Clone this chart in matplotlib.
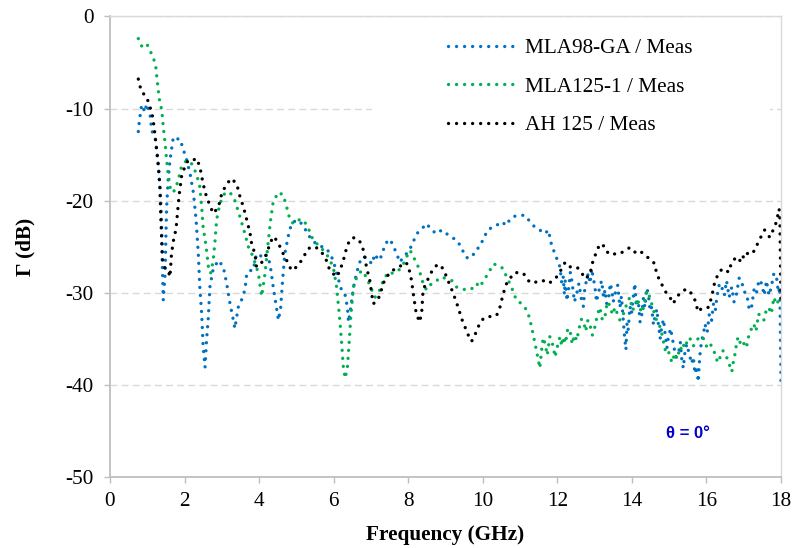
import numpy as np
import matplotlib.pyplot as plt
from matplotlib.patches import Rectangle

# Reflection coefficient vs. frequency, three antennas, theta = 0 deg
f_mla98 = np.array([
    0.76, 0.79, 0.85, 0.94, 0.98, 1.07, 1.12, 1.21, 1.27, 1.32,
    1.37, 1.39, 1.41, 1.43, 1.48, 1.50, 1.52, 1.56, 1.61, 1.70,
    1.79, 1.88, 1.97, 2.06, 2.15, 2.24, 2.31, 2.37, 2.41, 2.46,
    2.50, 2.55, 2.59, 2.64, 2.68, 2.77, 2.91, 3.04, 3.13, 3.22,
    3.31, 3.35, 3.44, 3.53, 3.62, 3.67, 3.76, 3.84, 3.93, 4.02,
    4.11, 4.20, 4.29, 4.38, 4.45, 4.52, 4.58, 4.63, 4.69, 4.78,
    4.87, 5.01, 5.14, 5.28, 5.41, 5.54, 5.68, 5.81, 5.90, 5.99,
    6.08, 6.21, 6.30, 6.37, 6.40, 6.46, 6.53, 6.62, 6.71, 6.80,
    6.93, 7.02, 7.11, 7.20, 7.29, 7.38, 7.51, 7.60, 7.69, 7.78,
    7.87, 8.00, 8.09, 8.23, 8.36, 8.49, 8.63, 8.76, 8.90, 9.03,
    9.17, 9.30, 9.43, 9.52, 9.61, 9.70, 9.83, 9.92, 10.02, 10.10,
    10.24, 10.37, 10.50, 10.64, 10.73, 10.86, 11.00, 11.13, 11.27, 11.40,
    11.53, 11.67, 11.76, 11.85, 11.94,
    12.07, 12.12, 12.16, 12.19, 12.21, 12.26, 12.30, 12.35, 12.39, 12.46,
    12.52, 12.58, 12.65, 12.70, 12.74, 12.79, 12.83, 12.88, 12.92, 12.97,
    13.01, 13.05, 13.10, 13.15, 13.19, 13.24, 13.28, 13.32, 13.37, 13.42,
    13.46, 13.50, 13.55, 13.62, 13.68, 13.72, 13.77, 13.80, 13.84, 13.87,
    13.90, 13.95, 13.99, 14.04, 14.08, 14.12, 14.17, 14.22, 14.26, 14.31,
    14.35, 14.40, 14.44, 14.49, 14.53, 14.58, 14.62, 14.67, 14.71, 14.76,
    14.80, 14.85, 14.89, 14.94, 14.98, 15.04, 15.11, 15.18, 15.25, 15.30,
    15.34, 15.38, 15.42, 15.47, 15.51, 15.56, 15.60, 15.65, 15.69, 15.74,
    15.78, 15.82, 15.87, 15.92, 15.96, 16.02, 16.08, 16.14, 16.19, 16.24,
    16.28, 16.35, 16.41, 16.48, 16.54, 16.61, 16.68, 16.74, 16.81, 16.88,
    16.94, 17.01, 17.08, 17.15, 17.21, 17.28, 17.34, 17.41, 17.48, 17.55,
    17.61, 17.68, 17.74, 17.81, 17.88, 17.93, 17.97, 18.00])
g_mla98 = np.array([
    -12.5, -11.3, -9.6, -10.4, -9.5, -10.4, -12.4, -13.1, -14.9, -17.4,
    -20.7, -23.9, -27.9, -30.8, -27.9, -23.9, -20.7, -17.8, -15.6, -13.1,
    -13.3, -13.3, -14.5, -15.6, -17.1, -19.2, -22.1, -25.8, -29.4, -32.3,
    -35.9, -38.1, -35.2, -32.6, -29.4, -27.4, -26.5, -27.2, -29.0, -31.2,
    -33.0, -33.9, -31.6, -30.8, -29.7, -27.9, -27.6, -27.6, -25.8, -25.9,
    -26.3, -25.9, -26.8, -29.4, -31.2, -33.0, -31.6, -28.7, -25.8, -23.9,
    -22.5, -22.1, -22.5, -23.4, -24.3, -24.7, -25.0, -25.2, -25.8, -26.5,
    -27.9, -29.7, -30.1, -31.6, -33.2, -31.6, -29.5, -27.8, -26.6, -26.1,
    -26.3, -26.9, -25.8, -26.5, -26.0, -24.7, -24.2, -24.9, -25.8, -26.7,
    -26.1, -25.6, -24.9, -23.6, -23.1, -22.5, -23.2, -23.6, -23.2, -23.6,
    -24.0, -24.3, -25.1, -26.0, -26.3, -26.0, -25.6, -24.7, -24.3, -23.4,
    -22.9, -22.7, -22.3, -22.7, -22.0, -21.7, -21.6, -21.6, -22.3, -22.9,
    -23.2, -23.6, -23.2, -24.9, -25.8,
    -27.2, -29.0, -28.3, -30.2, -28.7, -30.9, -29.7, -27.8, -28.7, -31.0,
    -30.1, -29.0, -30.8, -31.5, -29.4, -28.6, -27.9, -29.0, -27.4, -28.5,
    -29.4, -31.0, -30.1, -29.2, -28.7, -30.5, -29.7, -31.2, -30.8, -29.0,
    -29.7, -31.0, -30.1, -29.2, -31.6, -30.4, -33.0, -34.6, -36.2, -33.4,
    -34.1, -31.5, -32.3, -30.4, -29.0, -31.5, -30.8, -33.2, -32.6, -30.6,
    -31.6, -29.5, -30.1, -32.0, -31.6, -33.5, -32.6, -31.8, -33.4, -35.0,
    -33.7, -32.9, -34.4, -36.0, -34.8, -33.9, -35.5, -37.0, -36.6, -35.4,
    -37.3, -38.2, -36.6, -35.6, -36.2, -37.0, -37.7, -37.0, -38.8, -38.0,
    -39.7, -37.0, -35.2, -34.5, -33.4, -34.3, -32.3, -33.0, -31.2, -31.9,
    -30.5, -29.0, -29.4, -30.3, -28.7, -30.5, -29.4, -31.0, -30.1, -28.4,
    -28.7, -29.9, -30.1, -31.9, -31.6, -29.6, -30.1, -28.6, -29.0, -30.3,
    -28.7, -30.3, -29.4, -27.9, -28.3, -30.0, -29.4, -40.0])

f_mla125 = np.array([
    0.76, 0.85, 0.98, 1.07, 1.16, 1.23, 1.27, 1.32, 1.39, 1.43,
    1.48, 1.52, 1.56, 1.61, 1.65, 1.74, 1.83, 1.92, 2.06, 2.19,
    2.32, 2.41, 2.46, 2.50, 2.58, 2.64, 2.70, 2.77, 2.82, 2.86,
    2.95, 3.08, 3.22, 3.35, 3.49, 3.62, 3.71, 3.84, 3.98, 4.07,
    4.16, 4.25, 4.31, 4.38, 4.52, 4.65, 4.74, 4.83, 4.92, 5.05,
    5.19, 5.32, 5.45, 5.63, 5.81, 5.99, 6.08, 6.15, 6.21, 6.26,
    6.31, 6.37, 6.42, 6.46, 6.53, 6.62, 6.75, 6.88, 7.02, 7.11,
    7.24, 7.33, 7.46, 7.60, 7.74, 7.87, 7.96, 8.05, 8.14, 8.27,
    8.40, 8.49, 8.63, 8.76, 8.90, 9.03, 9.17, 9.30, 9.43, 9.57,
    9.70, 9.83, 9.92, 10.02, 10.15, 10.28, 10.41, 10.55, 10.64, 10.77,
    10.90, 11.04, 11.13, 11.22, 11.31, 11.40, 11.49, 11.53,
    11.58, 11.62, 11.67, 11.73, 11.80, 11.85, 11.89, 11.94, 11.98, 12.03,
    12.07, 12.12, 12.16, 12.22, 12.28, 12.34, 12.40, 12.46, 12.52, 12.58,
    12.64, 12.70, 12.76, 12.82, 12.87, 12.94, 13.01, 13.07, 13.14, 13.21,
    13.28, 13.34, 13.41, 13.48, 13.55, 13.61, 13.68, 13.75, 13.81, 13.88,
    13.95, 14.01, 14.08, 14.15, 14.21, 14.28, 14.35, 14.40, 14.44, 14.49,
    14.53, 14.60, 14.66, 14.73, 14.80, 14.85, 14.89, 14.96, 15.02, 15.08,
    15.15, 15.22, 15.29, 15.36, 15.42, 15.49, 15.56, 15.65, 15.74, 15.83,
    15.92, 16.01, 16.10, 16.17, 16.23, 16.30, 16.37, 16.44, 16.50, 16.59,
    16.68, 16.72, 16.77, 16.82, 16.86, 16.93, 17.00, 17.07, 17.13, 17.20,
    17.27, 17.33, 17.40, 17.47, 17.54, 17.60, 17.67, 17.74, 17.81, 17.88,
    17.94, 18.00])
g_mla125 = np.array([
    -2.4, -3.2, -2.9, -3.7, -4.4, -5.5, -7.1, -8.9, -10.2, -12.0,
    -13.8, -15.6, -17.1, -18.5, -19.1, -18.9, -17.8, -16.3, -15.6, -16.0,
    -17.1, -18.5, -20.7, -22.9, -25.0, -27.2, -27.9, -26.5, -24.3, -22.1,
    -20.3, -19.2, -19.1, -20.0, -21.8, -23.6, -25.0, -26.1, -27.9, -30.4,
    -27.9, -24.3, -22.1, -20.1, -19.1, -19.4, -20.7, -22.1, -22.5, -22.1,
    -22.1, -23.0, -24.3, -25.0, -25.8, -27.2, -29.4, -32.3, -35.2, -38.1,
    -39.3, -38.1, -35.2, -32.6, -29.4, -28.3, -27.6, -28.3, -29.7, -30.5,
    -29.7, -28.7, -27.8, -27.9, -27.6, -26.9, -26.1, -25.4, -26.1, -27.2,
    -29.0, -29.7, -29.0, -28.7, -28.3, -28.5, -28.7, -29.4, -29.6, -29.7,
    -29.6, -29.0, -29.4, -28.7, -27.9, -26.9, -27.0, -27.4, -28.3, -29.4,
    -30.8, -31.2, -31.6, -32.3, -33.7, -35.5, -37.3, -38.2,
    -36.2, -34.9, -35.5, -36.8, -34.8, -35.2, -35.9, -37.0, -36.2, -35.4,
    -34.8, -35.8, -34.8, -35.5, -33.9, -34.1, -35.6, -34.6, -35.2, -34.0,
    -32.9, -33.0, -34.2, -33.0, -33.4, -34.6, -33.7, -32.5, -31.6, -33.0,
    -32.6, -31.0, -31.4, -32.4, -31.6, -32.3, -33.0, -32.6, -31.9, -31.0,
    -30.5, -31.9, -31.6, -30.6, -31.7, -32.2, -30.8, -29.8, -30.1, -30.6,
    -31.2, -32.2, -33.0, -33.4, -34.4, -35.4, -36.2, -36.0, -37.0, -37.6,
    -36.6, -37.2, -35.9, -36.3, -35.2, -35.6, -35.0, -35.8, -35.2, -34.7,
    -35.0, -35.9, -35.5, -36.2, -36.6, -37.6, -37.0, -36.3, -36.6, -37.5,
    -38.6, -37.6, -36.6, -35.2, -34.8, -35.8, -35.5, -36.0, -34.8, -34.0,
    -33.4, -34.2, -32.3, -32.8, -33.0, -32.0, -31.6, -32.3, -30.5, -31.3,
    -30.8, -30.5])

f_ah125 = np.array([
    0.76, 0.80, 0.85, 0.98, 1.12, 1.16, 1.21, 1.25, 1.30, 1.34,
    1.36, 1.39, 1.41, 1.48, 1.56, 1.61, 1.65, 1.72, 1.77, 1.81,
    1.85, 1.92, 2.01, 2.10, 2.24, 2.32, 2.41, 2.50, 2.59, 2.68,
    2.77, 2.91, 3.00, 3.13, 3.26, 3.40, 3.49, 3.58, 3.67, 3.76,
    3.80, 3.89, 3.93, 4.02, 4.11, 4.20, 4.29, 4.38, 4.47, 4.56,
    4.65, 4.74, 4.87, 5.01, 5.14, 5.32, 5.50, 5.63, 5.77, 5.90,
    6.08, 6.17, 6.26, 6.35, 6.44, 6.57, 6.71, 6.80, 6.88, 6.97,
    7.02, 7.06, 7.15, 7.24, 7.33, 7.42, 7.56, 7.69, 7.83, 7.92,
    8.00, 8.09, 8.15, 8.21, 8.30, 8.36, 8.40, 8.51, 8.67, 8.80,
    8.94, 9.03, 9.21, 9.34, 9.43, 9.52, 9.61, 9.70, 9.79, 9.88,
    9.97, 10.10, 10.24, 10.37, 10.46, 10.55, 10.64, 10.73, 10.82, 10.95,
    11.09, 11.22, 11.36, 11.49, 11.62, 11.76, 11.89, 11.98, 12.12, 12.21,
    12.34, 12.52, 12.65, 12.74, 12.87, 12.96, 13.05, 13.14, 13.28, 13.37,
    13.50, 13.68, 13.81, 13.95, 14.08, 14.21, 14.35, 14.48, 14.62, 14.66,
    14.75, 14.84, 14.93, 15.02, 15.11, 15.20, 15.33, 15.47, 15.60, 15.69,
    15.78, 15.87, 15.96, 16.05, 16.14, 16.23, 16.37, 16.50, 16.59, 16.68,
    16.81, 16.94, 17.03, 17.17, 17.30, 17.39, 17.48, 17.56, 17.70, 17.79,
    17.88, 17.95, 17.97, 18.00])
g_ah125 = np.array([
    -6.8, -7.5, -8.2, -8.7, -10.4, -11.3, -12.9, -14.5, -16.3, -18.5,
    -21.4, -24.3, -26.5, -27.4, -27.6, -28.3, -25.8, -23.9, -23.2, -21.4,
    -19.6, -17.4, -16.3, -15.6, -15.6, -15.4, -16.3, -18.2, -19.6, -20.5,
    -21.4, -20.7, -19.2, -18.2, -17.6, -18.2, -19.6, -20.7, -22.1, -23.6,
    -24.7, -25.8, -27.2, -27.0, -26.5, -25.8, -24.7, -23.9, -24.3, -25.0,
    -25.8, -26.5, -27.6, -27.2, -26.5, -25.2, -25.0, -25.4, -26.1, -27.6,
    -28.3, -27.6, -26.5, -25.1, -24.2, -24.0, -24.5, -25.4, -27.2, -28.7,
    -30.1, -31.2, -31.0, -30.3, -29.0, -28.3, -27.6, -27.4, -27.0, -26.7,
    -27.0, -28.7, -30.5, -32.1, -33.2, -32.3, -29.7, -28.7, -27.4, -26.9,
    -27.4, -28.3, -30.1, -31.6, -32.8, -33.7, -34.6, -35.3, -34.6, -33.7,
    -33.0, -32.6, -32.6, -32.5, -31.6, -30.1, -29.0, -28.5, -27.9, -27.8,
    -27.9, -28.7, -29.0, -28.7, -28.7, -29.0, -28.7, -28.3, -27.4, -26.7,
    -27.2, -27.2, -27.8, -28.5, -28.1, -26.5, -25.6, -24.7, -25.0, -25.8,
    -25.8, -25.8, -25.4, -25.1, -25.6, -25.4, -26.0, -26.3, -26.9, -27.9,
    -28.7, -29.4, -30.1, -30.5, -31.2, -30.5, -29.9, -29.6, -30.1, -30.8,
    -32.1, -31.7, -31.7, -31.6, -30.5, -28.7, -27.6, -27.4, -27.8, -26.7,
    -26.1, -26.7, -25.6, -25.9, -25.4, -24.5, -23.8, -23.2, -24.0, -23.2,
    -22.3, -20.9, -21.8, -31.2])

labels = ['MLA98-GA / Meas', 'MLA125-1 / Meas', 'AH 125 / Meas']
colors = ['#0070C0', '#00B050', '#000000']

plt.rcParams['font.family'] = ['Liberation Serif', 'DejaVu Serif']
plt.rcParams['axes.unicode_minus'] = False
fs = 15.3

fig = plt.figure(figsize=(7.94, 5.48), dpi=100)
ax = fig.add_axes([0.1385, 0.1301, 0.8451, 0.8398])

series = [(f_mla98, g_mla98), (f_mla125, g_mla125), (f_ah125, g_ah125)]
for (f, g), lab, c in zip(series, labels, colors):
    ax.plot(f, g, color=c, lw=2.4, linestyle=(0, (0.01, 2.4)),
            dash_capstyle='round', label=lab)

ax.set_xlim(0, 18)
ax.set_ylim(-50, 0)
ax.set_xticks(np.arange(0, 19, 2))
ax.set_yticks(np.arange(-50, 1, 10))

ax.set_axisbelow(True)
ax.yaxis.grid(True, color='#d9d9d9', lw=1.0, linestyle=(0, (5, 3)))

for side in ['left', 'bottom']:
    ax.spines[side].set_color('#bfbfbf')
    ax.spines[side].set_linewidth(1.3)
for side in ['right', 'top']:
    ax.spines[side].set_color('#d9d9d9')
    ax.spines[side].set_linewidth(1.0)

ax.tick_params(axis='both', direction='out', length=4, width=1.0,
               color='#bfbfbf', labelsize=fs, labelcolor='black')
ax.tick_params(axis='y', pad=8)
ax.tick_params(axis='x', pad=7)

ax.set_xlabel('Frequency (GHz)', fontsize=fs, fontweight='bold', labelpad=10)
ax.set_ylabel('Γ (dB)', fontsize=fs, fontweight='bold', labelpad=21)

# white backing behind the legend hides the -10 dB gridline there
ax.add_patch(Rectangle((0.39, 0.72), 0.594, 0.27, transform=ax.transAxes,
                       facecolor='white', edgecolor='none', zorder=1))

leg = ax.legend(loc='upper left', bbox_to_anchor=(0.504, 0.952), frameon=False,
                fontsize=fs, handlelength=3.1, handletextpad=0.5,
                labelspacing=0.87, borderpad=0, borderaxespad=0)

ax.text(15.5, -45.3, 'θ = 0°', color='#0000CC', fontsize=12, fontweight='bold',
        family=['Liberation Sans', 'DejaVu Sans'], ha='center', va='center')

fig.savefig('out.png', dpi=100)
